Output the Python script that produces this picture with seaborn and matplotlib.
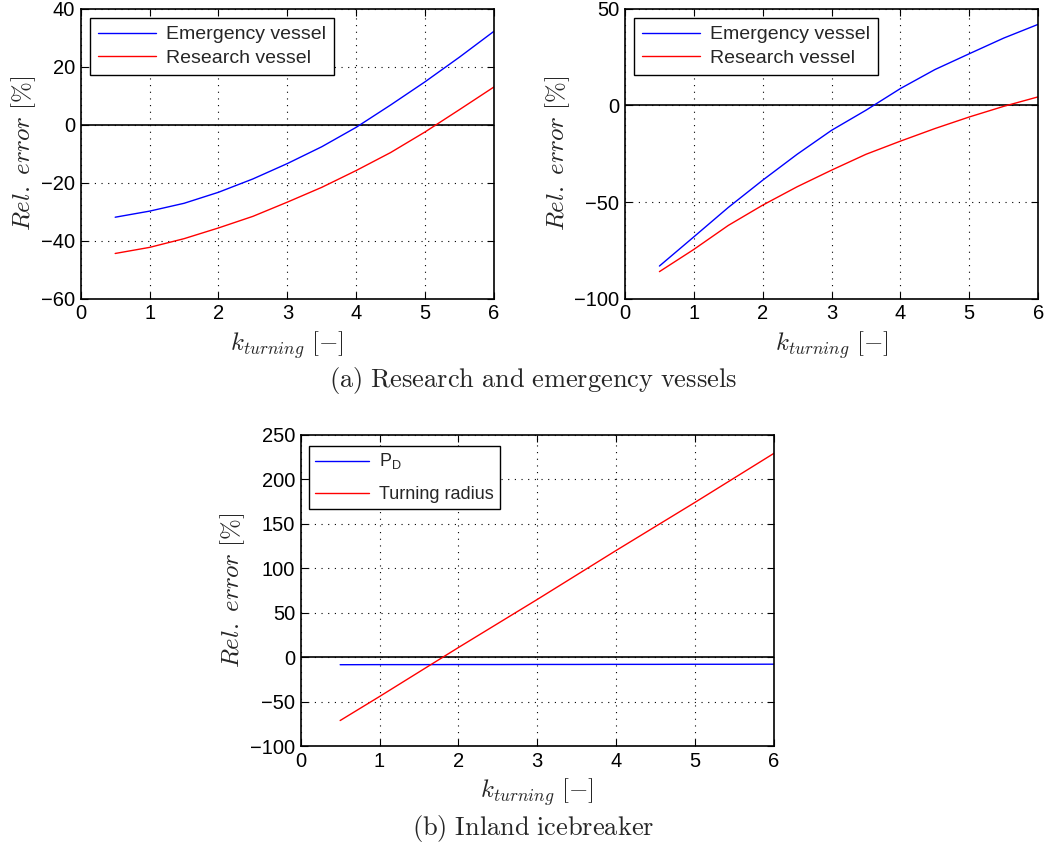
import numpy as np
import pandas as pd
import matplotlib
matplotlib.use("Agg")
import matplotlib.pyplot as plt
import seaborn as sns

# ---------------- data ----------------
k_turning = [0.5, 1.0, 1.5, 2.0, 2.5, 3.0, 3.5, 4.0, 4.5, 5.0, 5.5, 6.0]

# (a) left panel
left_emergency = [-31.9, -29.8, -27.1, -23.3, -18.7, -13.4, -7.6, -0.9, 6.8, 14.8, 23.3, 32.2]
left_research = [-44.4, -42.3, -39.3, -35.6, -31.6, -26.7, -21.6, -15.8, -9.6, -2.5, 5.2, 13.0]

# (a) right panel
right_emergency = [-83.1, -68.0, -52.8, -38.7, -25.3, -12.9, -2.5, 8.7, 18.5, 26.7, 34.8, 41.9]
right_research = [-86.0, -74.5, -62.1, -51.6, -42.1, -33.5, -25.3, -18.5, -12.0, -6.0, -0.5, 4.4]

# (b) inland icebreaker
icebreaker_pd = [-8.3, -8.2, -8.2, -8.1, -8.1, -8.0, -8.0, -7.9, -7.9, -7.8, -7.8, -7.7]
icebreaker_radius = [-71.0, -44.0, -16.5, 11.0, 38.0, 65.0, 92.5, 120.0, 147.0, 174.0, 201.5, 229.0]

xticks = [0, 1, 2, 3, 4, 5, 6]
left_yticks = [-60, -40, -20, 0, 20, 40]
right_yticks = [-100, -50, 0, 50]
bottom_yticks = [-100, -50, 0, 50, 100, 150, 200, 250]

labels_a = ["Emergency vessel", "Research vessel"]
labels_b = ["P$_\\mathregular{D}$", "Turning radius"]
caption_a = r"$\mathrm{(a)\ Research\ and\ emergency\ vessels}$"
caption_b = r"$\mathrm{(b)\ Inland\ icebreaker}$"
xlabel = r"$k_{turning}\ \mathrm{[-]}$"
ylabel = r"$Rel.\ error\ \mathrm{[\%]}$"

# ---------------- style ----------------
sns.set_theme(style="white")
plt.rcParams["font.family"] = ["Liberation Sans", "DejaVu Sans"]
plt.rcParams["mathtext.fontset"] = "cm"
plt.rcParams["axes.unicode_minus"] = True

fig = plt.figure(figsize=(10.46, 8.52), dpi=100)
ax1 = fig.add_axes([0.0772, 0.6494, 0.395, 0.3404])
ax2 = fig.add_axes([0.5975, 0.6494, 0.395, 0.3404])
ax3 = fig.add_axes([0.2875, 0.124, 0.4522, 0.3657])


def make_df(s0, s1, names):
    return pd.DataFrame({
        "k": k_turning + k_turning,
        "err": list(s0) + list(s1),
        "series": [names[0]] * len(k_turning) + [names[1]] * len(k_turning),
    })


def draw(ax, s0, s1, names, ylim, yticks, legend_kw):
    df = make_df(s0, s1, names)
    pal = {names[0]: "#0000ff", names[1]: "#ff0000"}
    sns.lineplot(data=df, x="k", y="err", hue="series", palette=pal,
                 linewidth=1.0, ax=ax, legend=True)
    ax.axhline(0, color="black", linewidth=1.2, zorder=1)
    ax.set_xlim(0, 6)
    ax.set_ylim(*ylim)
    ax.set_xticks(xticks)
    ax.set_yticks(yticks)
    ax.grid(True, color="black", linestyle=(0, (1, 5)), linewidth=0.8)
    ax.tick_params(direction="in", length=5, width=0.8, labelsize=14.5,
                   top=True, right=True, bottom=True, left=True, colors="black",
                   pad=4)
    for sp in ax.spines.values():
        sp.set_color("black")
        sp.set_linewidth(1.2)
    ax.set_xlabel(xlabel, fontsize=18, labelpad=4)
    ax.set_ylabel(ylabel, fontsize=18, labelpad=2)
    leg = ax.legend(title=None, frameon=True, fancybox=False,
                    edgecolor="black", borderaxespad=0, **legend_kw)
    leg.get_frame().set_linewidth(1.0)
    leg.get_frame().set_alpha(1)


top_legend = dict(loc="upper left", bbox_to_anchor=(0.0225, 0.968), fontsize=14,
                  handlelength=3.0, handletextpad=0.5, borderpad=0.4,
                  labelspacing=0.3)
draw(ax1, left_emergency, left_research, labels_a, (-60, 40), left_yticks, top_legend)
draw(ax2, right_emergency, right_research, labels_a, (-100, 50), right_yticks, top_legend)
draw(ax3, icebreaker_pd, icebreaker_radius, labels_b, (-100, 250), bottom_yticks,
     dict(loc="upper left", bbox_to_anchor=(0.0175, 0.9637), fontsize=13,
          handlelength=3.0, handletextpad=0.5, borderpad=0.35, labelspacing=0.75))

fig.text(0.5096, 1 - 381 / 852, caption_a, ha="center", va="center", fontsize=19)
fig.text(0.5096, 1 - 828 / 852, caption_b, ha="center", va="center", fontsize=19)

fig.savefig("out.png", dpi=100)
